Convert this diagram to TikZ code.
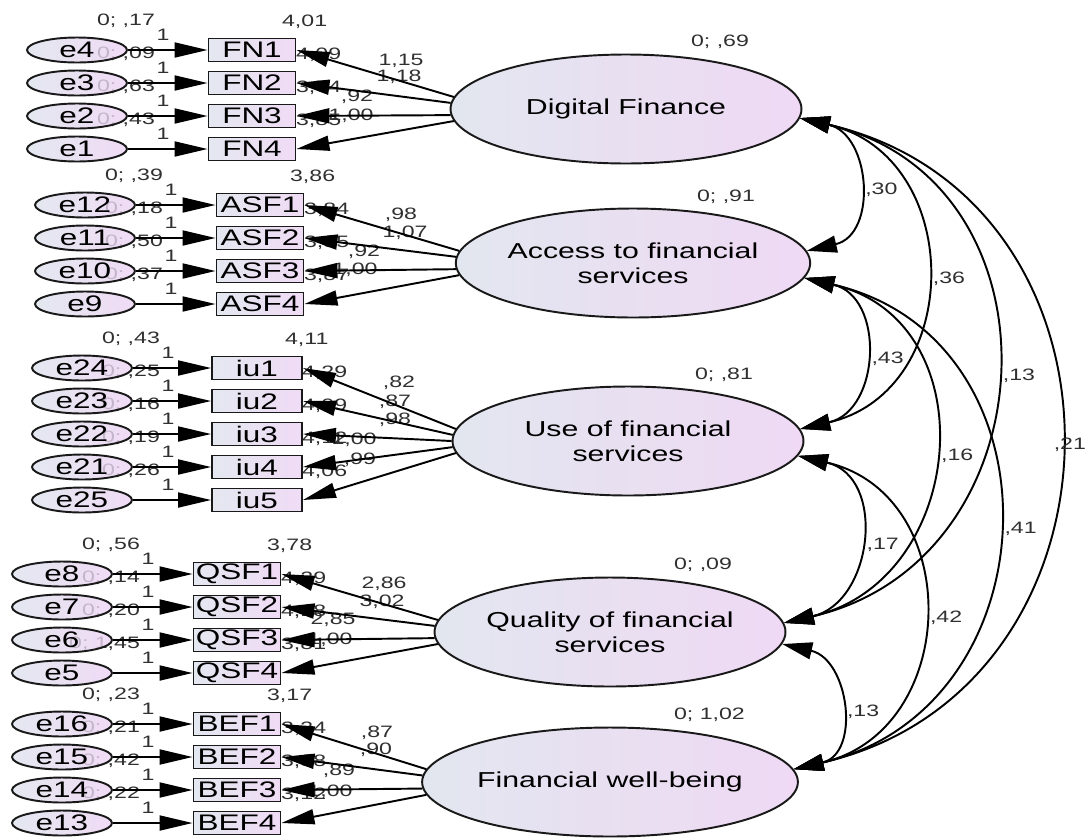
\documentclass[tikz,border=0pt]{standalone}
\usepackage{fontspec}
\setmainfont{Liberation Sans}[FakeStretch=1.4]
\usepackage{tikz}
\usetikzlibrary{shapes.geometric, arrows.meta, backgrounds}

\definecolor{leftshade}{HTML}{DDE2EC}
\definecolor{rightshade}{HTML}{ECD2F2}
\definecolor{numgray}{HTML}{303030}

\begin{document}
\begin{tikzpicture}[
    x=0.02cm, y=-0.02cm,
    latent/.style = {ellipse, draw=black!90, line width=1.1pt, left color=leftshade, right color=rightshade, fill opacity=0.85, text opacity=1, minimum width=7.02cm, minimum height=2.18cm, inner sep=0pt, align=center, font=\fontsize{12.3}{14.2}\selectfont},
    error/.style = {ellipse, draw=black!90, line width=1.1pt, left color=leftshade, right color=rightshade, fill opacity=0.8, text opacity=1, minimum width=2cm, minimum height=0.5cm, inner sep=0pt, font=\fontsize{12.8}{14}\selectfont},
    item/.style = {rectangle, draw=black!90, line width=1.1pt, left color=leftshade, right color=rightshade, fill opacity=0.8, text opacity=1, minimum width=1.74cm, minimum height=0.46cm, inner sep=0pt, font=\fontsize{12.8}{14}\selectfont},
    num/.style = {text=numgray, inner sep=1pt, font=\fontsize{9.4}{11}\selectfont},
    arrow/.style = {line width=1.1pt, -{Triangle[length=0.66cm, width=0.3cm]}},
    covar/.style = {line width=1.1pt, {Triangle[length=0.6cm, width=0.34cm]}-{Triangle[length=0.6cm, width=0.34cm]}, out=-13, in=13, looseness=1.4},
    covlabel/.style = {num, pos=0.5, anchor=west, xshift=0.12cm, yshift=-0.1cm}
]
\useasboundingbox (0,0) rectangle (1091,839);

% Latent factors
\node (DF) [latent] at (626,109) {Digital Finance};
\node (AS) [latent] at (633,263) {Access to financial\\services};
\node (US) [latent] at (628,441) {Use of financial\\services};
\node (QS) [latent] at (610,632) {Quality of financial\\services};
\node (FW) [latent] at (610,782) {Financial well-being};

\node (vDF) [num, anchor=west] at (689,42) {0; ,69};
\node (vAS) [num, anchor=west] at (695,197) {0; ,91};
\node (vUS) [num, anchor=west] at (693,375) {0; ,81};
\node (vQS) [num, anchor=west] at (672,565) {0; ,09};
\node (vFW) [num, anchor=west] at (672,715) {0; 1,02};

% Digital Finance items
\def\errx{77} \def\itemx{252} \def\lat{DF}
\foreach \y/\en/\bn/\vl/\ml/\mx/\ld/\lx/\ly/\ang in {
    50/e4/FN1/{0; ,17}/{4,01}/28/{1,15}/401/61/176,
    83/e3/FN2/{0; ,09}/{4,09}/42/{1,18}/399/77/178,
    116/e2/FN3/{0; ,63}/{3,74}/42/{,92}/357/97/182,
    149/e1/FN4/{0; ,43}/{3,85}/42/{1,00}/351/116/184}{
  \begin{scope}[on background layer]
    \node (v\en) [num, anchor=east] at (\errx+80,\y-29) {\vl};
    \node (w\en) [num] at (\errx+86,\y-15) {1};
    \node (m\bn) [num, anchor=west] at (\itemx+\mx,\y-28) {\ml};
    \node (l\bn) [num] at (\lx,\ly) {\ld};
  \end{scope}
  \node (\en) [error] at (\errx,\y) {\en};
  \node (\bn) [item] at (\itemx,\y) {\bn};
  \draw [arrow] (\en) -- (\bn);
  \draw [arrow] (\lat.\ang) -- (\bn.east);
}

% Access to financial services items
\def\errx{85} \def\itemx{260} \def\lat{AS}
\foreach \y/\en/\bn/\vl/\ml/\mx/\ld/\lx/\ly/\ang in {
    205/e12/ASF1/{0; ,39}/{3,86}/28/{,98}/401/215/176,
    238/e11/ASF2/{0; ,18}/{3,84}/42/{1,07}/405/233/178,
    271/e10/ASF3/{0; ,50}/{3,85}/42/{,92}/364/252/182,
    304/e9/ASF4/{0; ,37}/{3,87}/42/{1,00}/355/270/184}{
  \begin{scope}[on background layer]
    \node (v\en) [num, anchor=east] at (\errx+80,\y-29) {\vl};
    \node (w\en) [num] at (\errx+86,\y-15) {1};
    \node (m\bn) [num, anchor=west] at (\itemx+\mx,\y-28) {\ml};
    \node (l\bn) [num] at (\lx,\ly) {\ld};
  \end{scope}
  \node (\en) [error] at (\errx,\y) {\en};
  \node (\bn) [item] at (\itemx,\y) {\bn};
  \draw [arrow] (\en) -- (\bn);
  \draw [arrow] (\lat.\ang) -- (\bn.east);
}

% Use of financial services items
\def\errx{82} \def\itemx{257} \def\lat{US}
\foreach \y/\en/\bn/\vl/\ml/\mx/\ld/\lx/\ly/\ang in {
    368/e24/iu1/{0; ,43}/{4,11}/26/{,82}/399/383/176,
    401/e23/iu2/{0; ,25}/{4,29}/43/{,87}/395/402/178,
    434/e22/iu3/{0; ,16}/{4,09}/43/{,98}/395/420/180,
    467/e21/iu4/{0; ,19}/{4,12}/43/{1,00}/354/440/182,
    500/e25/iu5/{0; ,26}/{4,06}/43/{,99}/360/460/184}{
  \begin{scope}[on background layer]
    \node (v\en) [num, anchor=east] at (\errx+80,\y-29) {\vl};
    \node (w\en) [num] at (\errx+86,\y-15) {1};
    \node (m\bn) [num, anchor=west] at (\itemx+\mx,\y-28) {\ml};
    \node (l\bn) [num] at (\lx,\ly) {\ld};
  \end{scope}
  \node (\en) [error] at (\errx,\y) {\en};
  \node (\bn) [item, minimum width=1.8cm] at (\itemx,\y) {\bn};
  \draw [arrow] (\en) -- (\bn);
  \draw [arrow] (\lat.\ang) -- (\bn.east);
}

% Quality of financial services items
\def\errx{62} \def\itemx{237} \def\lat{QS}
\foreach \y/\en/\bn/\vl/\ml/\mx/\ld/\lx/\ly/\ang in {
    574/e8/QSF1/{0; ,56}/{3,78}/28/{2,86}/384/584/176,
    607/e7/QSF2/{0; ,14}/{4,29}/42/{3,02}/382/602/178,
    640/e6/QSF3/{0; ,20}/{4,18}/42/{2,85}/333/620/182,
    673/e5/QSF4/{0; 1,45}/{3,81}/42/{1,00}/330/640/184}{
  \begin{scope}[on background layer]
    \node (v\en) [num, anchor=east] at (\errx+80,\y-29) {\vl};
    \node (w\en) [num] at (\errx+86,\y-15) {1};
    \node (m\bn) [num, anchor=west] at (\itemx+\mx,\y-28) {\ml};
    \node (l\bn) [num] at (\lx,\ly) {\ld};
  \end{scope}
  \node (\en) [error] at (\errx,\y) {\en};
  \node (\bn) [item] at (\itemx,\y) {\bn};
  \draw [arrow] (\en) -- (\bn);
  \draw [arrow] (\lat.\ang) -- (\bn.east);
}

% Financial well-being items
\def\errx{62} \def\itemx{237} \def\lat{FW}
\foreach \y/\en/\bn/\vl/\ml/\mx/\ld/\lx/\ly/\ang in {
    724/e16/BEF1/{0; ,23}/{3,17}/28/{,87}/377/733/176,
    757/e15/BEF2/{0; ,21}/{3,34}/42/{,90}/376/750/178,
    790/e14/BEF3/{0; ,42}/{3,38}/42/{,89}/339/771/182,
    823/e13/BEF4/{0; ,22}/{3,12}/42/{1,00}/330/792/184}{
  \begin{scope}[on background layer]
    \node (v\en) [num, anchor=east] at (\errx+80,\y-29) {\vl};
    \node (w\en) [num] at (\errx+86,\y-15) {1};
    \node (m\bn) [num, anchor=west] at (\itemx+\mx,\y-28) {\ml};
    \node (l\bn) [num] at (\lx,\ly) {\ld};
  \end{scope}
  \node (\en) [error] at (\errx,\y) {\en};
  \node (\bn) [item] at (\itemx,\y) {\bn};
  \draw [arrow] (\en) -- (\bn);
  \draw [arrow] (\lat.\ang) -- (\bn.east);
}

% Covariances
\draw [covar] (DF.-3) to node (c1) [covlabel] {,30} (AS.4);
\draw [covar] (DF.-3) to node (c2) [covlabel] {,36} (US.4);
\draw [covar] (DF.-3) to node (c3) [covlabel] {,13} (QS.3);
\draw [covar] (DF.-3) to (FW.4);
\node (c4) [num, anchor=east] at (1088,445) {,21};
\draw [covar] (AS.-5) to node (c5) [covlabel] {,43} (US.4);
\draw [covar] (AS.-5) to node (c6) [covlabel] {,16} (QS.3);
\draw [covar] (AS.-5) to node (c7) [covlabel] {,41} (FW.4);
\draw [covar] (US.-5) to node (c8) [covlabel] {,17} (QS.3);
\draw [covar] (US.-5) to node (c9) [covlabel] {,42} (FW.4);
\draw [covar] (QS.-4) to node (c10) [covlabel] {,13} (FW.4);

\end{tikzpicture}
\end{document}
